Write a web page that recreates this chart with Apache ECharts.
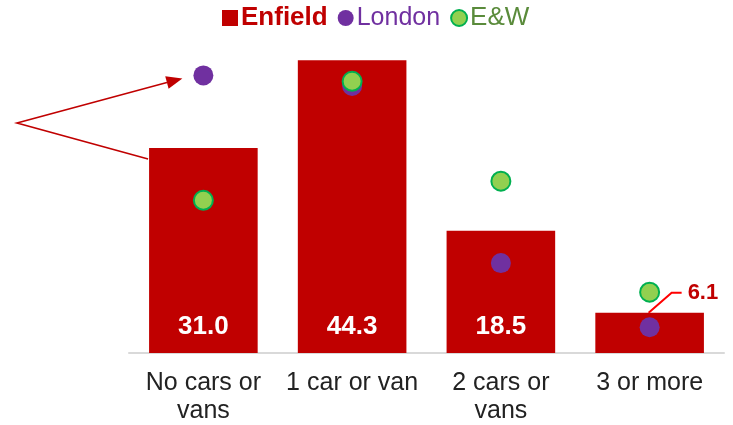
<!DOCTYPE html>
<html>
<head>
<meta charset="utf-8">
<script src="https://cdn.jsdelivr.net/npm/echarts@6/dist/echarts.min.js"></script>
<style>
html,body{margin:0;padding:0;background:#fff;}
#c{width:733px;height:425px;}
</style>
</head>
<body>
<div id="c"></div>
<script>
var categories = ['No cars or\nvans', '1 car or van', '2 cars or\nvans', '3 or more'];
var enfield = [31.0, 44.3, 18.5, 6.1];
var london = [42.0, 40.4, 13.6, 3.9];
var ew = [23.1, 41.1, 26.0, 9.2];

var FONT = '"Liberation Sans", Arial, sans-serif';
var chart = echarts.init(document.getElementById('c'), null, {renderer: 'canvas'});

var barData = enfield.map(function (v, i) {
  return {value: v, label: {show: i < 3}};
});

var option = {
  animation: false,
  backgroundColor: '#ffffff',
  grid: {left: 129, right: 9, top: 22.5, bottom: 72},
  legend: {
    top: 0,
    left: 217,
    itemWidth: 16,
    itemHeight: 16,
    itemGap: 10,
    textStyle: {fontFamily: FONT, fontSize: 25, padding: [0, 0, 0, -2]},
    data: [
      {name: 'Enfield', icon: 'rect', textStyle: {color: '#c00000', fontWeight: 'bold', fontSize: 26}},
      {name: 'London', icon: 'circle', textStyle: {color: '#7030a0', fontSize: 25}},
      {name: 'E&W', icon: 'circle', textStyle: {color: '#5a8b3b', fontSize: 26}}
    ]
  },
  xAxis: {
    type: 'category',
    data: categories,
    axisLine: {lineStyle: {color: '#d9d9d9', width: 2}},
    axisTick: {show: false},
    axisLabel: {
      color: '#222222', fontFamily: FONT, fontSize: 25, lineHeight: 28, margin: 16,
      interval: 0
    }
  },
  yAxis: {
    type: 'value', min: 0, max: 50, show: false,
    splitLine: {show: false}
  },
  series: [
    {
      name: 'Enfield',
      type: 'bar',
      data: barData,
      barWidth: '73%',
      itemStyle: {color: '#c00000'},
      label: {
        position: 'insideBottom',
        distance: 13,
        color: '#ffffff',
        fontFamily: FONT,
        fontWeight: 'bold',
        fontSize: 26,
        formatter: function (p) { return p.value.toFixed(1); }
      },
      z: 2
    },
    {
      name: 'London',
      type: 'scatter',
      data: london,
      symbol: 'circle',
      symbolSize: 20,
      itemStyle: {color: '#7030a0', opacity: 1},
      z: 3
    },
    {
      name: 'E&W',
      type: 'scatter',
      data: ew,
      symbol: 'circle',
      symbolSize: 19,
      itemStyle: {color: '#92d050', borderColor: '#00b050', borderWidth: 2, opacity: 1},
      z: 4
    }
  ]
};
chart.setOption(option);

// Annotations positioned from the chart's own scales
var barTop0 = chart.convertToPixel({seriesIndex: 0}, [0, enfield[0]]);
var lonPt0 = chart.convertToPixel({seriesIndex: 1}, [0, london[0]]);
var barTop3 = chart.convertToPixel({seriesIndex: 0}, [3, enfield[3]]);
var catW = chart.convertToPixel({xAxisIndex: 0}, 1) - chart.convertToPixel({xAxisIndex: 0}, 0);
var halfBar = catW * 0.73 / 2;

var apex = [17, 123];
var tip = [lonPt0[0] - 21, lonPt0[1] + 3];
var endPt = [barTop0[0] - halfBar - 1, barTop0[1] + 11];

var dx = tip[0] - apex[0], dy = tip[1] - apex[1];
var len = Math.sqrt(dx * dx + dy * dy);
var ux = dx / len, uy = dy / len;
var headL = 16, headW = 6.5;
var base = [tip[0] - ux * headL, tip[1] - uy * headL];
var p1 = [base[0] - uy * headW, base[1] + ux * headW];
var p2 = [base[0] + uy * headW, base[1] - ux * headW];

var lblStart = [barTop3[0] - 1, barTop3[1]];
var lblBend = [lblStart[0] + 23, lblStart[1] - 20];
var lblEnd = [lblBend[0] + 10, lblBend[1]];

chart.setOption({
  graphic: [
    {type: 'polyline', shape: {points: [base, apex, endPt]}, style: {stroke: '#c00000', lineWidth: 1.6, fill: null}, z: 10},
    {type: 'polygon', shape: {points: [tip, p1, p2]}, style: {fill: '#c00000'}, z: 10},
    {type: 'polyline', shape: {points: [lblStart, lblBend, lblEnd]}, style: {stroke: '#ff0000', lineWidth: 2, fill: null}, z: 10},
    {type: 'text', x: lblEnd[0] + 6, y: lblEnd[1], z: 10,
      style: {text: enfield[3].toFixed(1), fill: '#c00000', font: 'bold 22px ' + FONT, verticalAlign: 'middle', align: 'left'}}
  ]
});
</script>
</body>
</html>
